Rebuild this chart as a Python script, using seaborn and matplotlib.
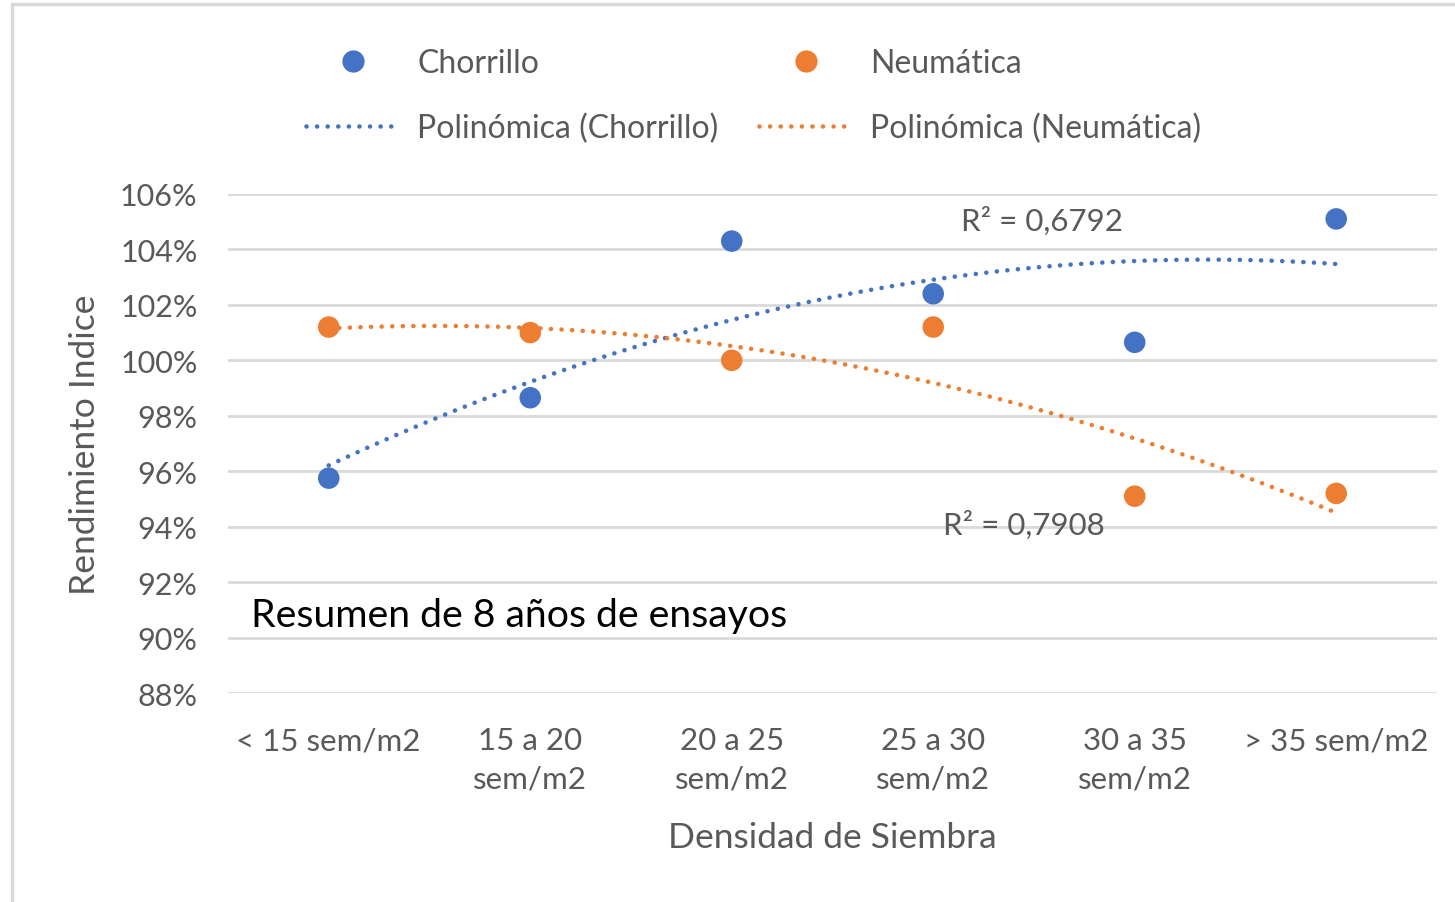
import numpy as np
import pandas as pd
import seaborn as sns
import matplotlib.pyplot as plt
from matplotlib.lines import Line2D
from matplotlib.patches import Rectangle

# datos
categorias = ["< 15 sem/m2", "15 a 20\nsem/m2", "20 a 25\nsem/m2",
              "25 a 30\nsem/m2", "30 a 35\nsem/m2", "> 35 sem/m2"]
chorrillo = [95.75, 98.65, 104.3, 102.4, 100.65, 105.1]
neumatica = [101.2, 101.0, 100.0, 101.2, 95.1, 95.2]
yticks = [88, 90, 92, 94, 96, 98, 100, 102, 104, 106]
r2_chorrillo = "R² = 0,6792"
r2_neumatica = "R² = 0,7908"

azul = "#4472C4"
naranja = "#ED7D31"
gris = "#595959"
punteado = (0, (0.01, 2.3))

df = pd.DataFrame({
    "x": list(range(len(categorias))) * 2,
    "valor": chorrillo + neumatica,
    "serie": ["Chorrillo"] * len(chorrillo) + ["Neumática"] * len(neumatica),
})

sns.set_theme(style="white")
plt.rcParams["font.family"] = ["Lato", "DejaVu Sans"]

fig = plt.figure(figsize=(14.55, 9.03), dpi=100)
ax = fig.add_axes([0.1567, 0.2314, 0.8309, 0.5527])

# lineas de tendencia polinomicas (orden 2)
for serie, color in [("Chorrillo", azul), ("Neumática", naranja)]:
    sub = df[df["serie"] == serie]
    sns.regplot(data=sub, x="x", y="valor", order=2, ci=None, scatter=False,
                ax=ax, color=color,
                line_kws={"linestyle": punteado, "linewidth": 3.3,
                          "dash_capstyle": "round", "zorder": 2})

sns.scatterplot(data=df, x="x", y="valor", hue="serie",
                palette={"Chorrillo": azul, "Neumática": naranja},
                s=240, edgecolor="none", ax=ax, legend=False, zorder=3)

ax.set_xlim(-0.5, 5.5)
ax.set_ylim(88, 106)
ax.set_yticks(yticks)
ax.set_yticklabels([f"{v}%" for v in yticks])
ax.set_xticks(range(len(categorias)))
ax.set_xticklabels(categorias, linespacing=1.45)
ax.tick_params(axis="both", length=0, labelcolor=gris)
ax.tick_params(axis="x", pad=24, labelsize=22.5)
ax.tick_params(axis="y", pad=22, labelsize=22)
ax.yaxis.grid(True, color="#d9d9d9", linewidth=2)
ax.set_axisbelow(True)
for spine in ax.spines.values():
    spine.set_visible(False)

ax.set_xlabel("Densidad de Siembra", fontsize=25.5, color=gris)
ax.set_ylabel("Rendimiento Indice", fontsize=25.5, color=gris)
ax.xaxis.label.set_va("center")
ax.yaxis.label.set_va("center")
ax.xaxis.set_label_coords(0.4996, -0.289)
ax.yaxis.set_label_coords(-0.118, 0.5)

ax.text(3.14, 105.05, r2_chorrillo, fontsize=22.5, color=gris, va="center")
ax.text(3.05, 94.08, r2_neumatica, fontsize=22.5, color=gris, va="center")
ax.text(-0.387, 90.8, "Resumen de 8 años de ensayos", fontsize=28.3,
        color="black", va="center")

# leyenda
handles = [
    Line2D([], [], marker="o", linestyle="none", markersize=16,
           markerfacecolor=azul, markeredgecolor="none"),
    Line2D([], [], color=azul, linestyle=punteado, linewidth=3.3,
           dash_capstyle="round"),
    Line2D([], [], marker="o", linestyle="none", markersize=16,
           markerfacecolor=naranja, markeredgecolor="none"),
    Line2D([], [], color=naranja, linestyle=punteado, linewidth=3.3,
           dash_capstyle="round"),
]
labels = ["Chorrillo", "Polinómica (Chorrillo)", "Neumática",
          "Polinómica (Neumática)"]
leg = fig.legend(handles, labels, ncol=2, loc="center",
                 bbox_to_anchor=(0.518, 0.893), frameon=False, fontsize=23,
                 handlelength=2.94, handletextpad=0.53, columnspacing=1.28,
                 labelspacing=1.1)
for t in leg.get_texts():
    t.set_color(gris)

# marco del area del grafico
fig.patches.append(Rectangle((12 / 1455, -0.01), 1.1, 1 - 5 / 903 + 0.01,
                             transform=fig.transFigure, fill=False,
                             edgecolor="#d9d9d9", linewidth=2.5))

fig.savefig("out.png", dpi=100)
